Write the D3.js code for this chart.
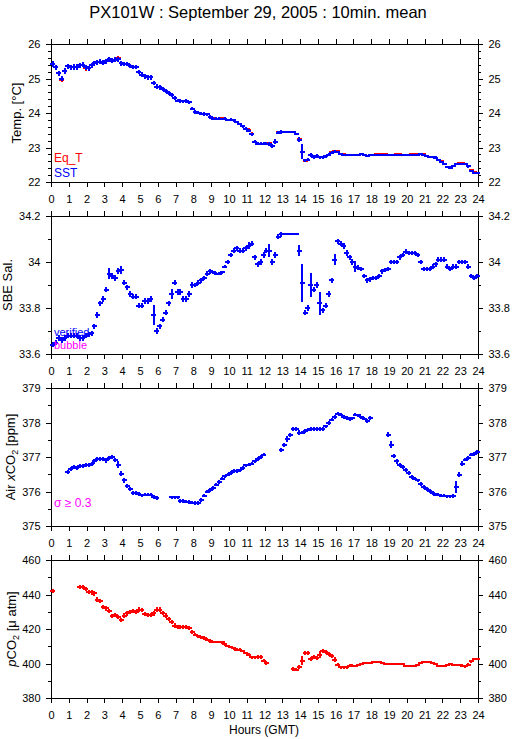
<!DOCTYPE html>
<html>
<head>
<meta charset="utf-8">
<script src="https://cdn.jsdelivr.net/npm/d3@7"></script>
<style>
  body { margin: 0; background: #fff; }
  svg { display: block; font-family: "Liberation Sans", Arial, Helvetica, sans-serif; }
</style>
</head>
<body>
<svg id="chart" width="515" height="739"></svg>
<script>
// ---- data: 10-minute means, 6 values per hour (one row per hour) ----
const hourTicks = d3.range(0, 25);

const tempTicks = [22, 23, 24, 25, 26];
const salTicks = [33.6, 33.8, 34, 34.2];
const xco2Ticks = [375, 376, 377, 378, 379];
const pco2Ticks = [380, 400, 420, 440, 460];

const sst = [
  25.42, 25.32, 25.15, 25.00, 25.22, 25.35,
  25.32, 25.34, 25.33, 25.38, 25.40, 25.32,
  25.29, 25.38, 25.44, 25.47, 25.49, 25.46,
  25.50, 25.56, 25.52, 25.55, 25.56, 25.44,
  25.43, 25.41, 25.36, 25.34, 25.33, 25.20,
  25.11, 25.07, 25.04, 25.03, 24.87, 24.76,
  24.74, 24.70, 24.63, 24.57, 24.52, 24.44,
  24.36, 24.35, 24.34, 24.35, 24.31, 24.13,
  24.03, 24.01, 23.98, 23.97, 23.96, 23.88,
  23.84, 23.84, 23.84, 23.83, 23.84, 23.81,
  23.81, 23.79, 23.74, 23.68, 23.61, 23.54,
  23.49, 23.38, 23.17, 23.11, 23.11, 23.11,
  23.11, 23.10, 23.04, 23.17, 23.43, 23.45,
  23.45, 23.45, 23.45, 23.44, 23.38, 23.23,
  22.88, 22.63, 22.65, 22.78, 22.73, 22.76,
  22.72, 22.72, 22.74, 22.79, 22.85, 22.88,
  22.88, 22.81, 22.79, 22.77, 22.77, 22.77,
  22.77, 22.78, 22.82, 22.79, 22.76, 22.78,
  22.79, 22.79, 22.79, 22.79, 22.79, 22.79,
  22.78, 22.78, 22.78, 22.79, 22.79, 22.79,
  22.79, 22.79, 22.79, 22.79, 22.81, 22.79,
  22.75, 22.72, 22.72, 22.71, 22.64, 22.58,
  22.51, 22.43, 22.42, 22.47, 22.51, 22.53,
  22.53, 22.51, 22.45, 22.33, 22.27, 22.25
];

const eqT = [
  25.42, 25.32, 25.15, 24.97, 25.22, 25.35,
  25.32, 25.34, 25.33, 25.38, 25.40, 25.30,
  25.29, 25.38, 25.44, 25.47, 25.49, 25.46,
  25.50, 25.56, 25.52, 25.55, 25.58, 25.44,
  25.43, 25.41, 25.36, 25.34, 25.33, 25.20,
  25.11, 25.07, 25.04, 25.03, 24.87, 24.76,
  24.74, 24.70, 24.63, 24.57, 24.52, 24.44,
  24.36, 24.35, 24.34, 24.35, 24.31, 24.13,
  24.03, 24.01, 23.98, 23.97, 23.96, 23.88,
  23.86, 23.84, 23.84, 23.86, 23.84, 23.81,
  23.81, 23.79, 23.74, 23.68, 23.61, 23.54,
  23.51, 23.40, 23.17, 23.11, 23.11, 23.11,
  23.11, 23.12, 23.04, 23.17, 23.44, 23.46,
  23.46, 23.45, 23.45, 23.46, 23.39, 23.25,
  22.88, 22.62, 22.65, 22.78, 22.73, 22.76,
  22.72, 22.72, 22.74, 22.79, 22.87, 22.90,
  22.90, 22.82, 22.80, 22.79, 22.79, 22.79,
  22.78, 22.78, 22.82, 22.79, 22.76, 22.78,
  22.79, 22.80, 22.81, 22.81, 22.80, 22.79,
  22.78, 22.78, 22.80, 22.80, 22.79, 22.79,
  22.79, 22.81, 22.82, 22.82, 22.82, 22.80,
  22.76, 22.73, 22.72, 22.71, 22.65, 22.60,
  22.52, 22.44, 22.42, 22.47, 22.52, 22.54,
  22.54, 22.52, 22.46, 22.34, 22.28, 22.25
];

const sal = [
  33.64, 33.65, 33.67, 33.66, 33.67, 33.68,
  33.68, 33.68, 33.68, 33.67, 33.67, 33.68,
  33.685, 33.69, 33.72, 33.77, 33.82, 33.84,
  33.88, 33.95, 33.94, 33.93, 33.96, 33.965,
  33.91, 33.89, 33.86, 33.85, 33.85, 33.81,
  33.81, 33.83, 33.83, 33.84, 33.77, 33.70,
  33.72, 33.75, 33.78, 33.82, 33.86, 33.91,
  33.87, 33.87, 33.84, 33.84, 33.86, 33.90,
  33.90, 33.91, 33.92, 33.93, 33.95, 33.96,
  33.955, 33.95, 33.95, 33.955, 33.98, 34.00,
  34.03, 34.05, 34.06, 34.05, 34.05, 34.06,
  34.07, 34.08, 34.02, 33.99, 34.00, 34.03,
  34.05, 34.05, 34.00, 34.03, 34.11, 34.12,
  34.12, 34.12, 34.12, 34.12, 34.12, 34.05,
  33.91, 33.78, 33.80, 33.90, 33.88, 33.90,
  33.82, 33.79, 33.81, 33.86, 33.92, 34.01,
  34.09, 34.08, 34.07, 34.04, 34.02, 34.00,
  33.98, 33.975, 33.97, 33.94, 33.92, 33.925,
  33.93, 33.93, 33.94, 33.96, 33.965, 33.97,
  34.00, 34.00, 34.00, 34.02, 34.03, 34.045,
  34.04, 34.04, 34.04, 34.03, 34.00, 33.97,
  33.97, 33.97, 33.98, 33.99, 34.01, 34.01,
  34.01, 33.98, 33.97, 33.98, 33.98, 34.00,
  34.00, 34.00, 33.98, 33.94, 33.93, 33.94
];

const xco2 = [
  null, null, null, null, null, 376.57,
  376.65, 376.71, 376.68, 376.73, 376.75, 376.76,
  376.78, 376.80, 376.87, 376.94, 376.94, 376.94,
  376.90, 376.97, 377.00, 376.92, 376.78, 376.52,
  376.32, 376.17, 376.07, 375.96, 375.96, 375.92,
  375.89, 375.91, 375.91, 375.91, 375.84, 375.81,
  null, null, null, null, 375.83, 375.83,
  375.83, 375.73, 375.72, 375.71, 375.70, 375.68,
  375.67, 375.67, 375.76, 375.88, 376.00, 376.05,
  376.10, 376.20, 376.28, 376.37, 376.44, 376.49,
  376.54, 376.60, 376.60, 376.61, 376.68, 376.76,
  376.78, 376.81, 376.87, 376.94, 377.00, 377.07,
  null, null, null, null, null, 377.21,
  377.36, 377.52, 377.65, 377.81, 377.81, 377.71,
  377.71, 377.76, 377.79, 377.81, 377.81, 377.81,
  377.81, 377.81, 377.89, 377.99, 378.08, 378.16,
  378.26, 378.23, 378.16, 378.13, 378.10, 378.12,
  378.23, 378.21, 378.15, 378.11, 378.05, 378.13,
  null, null, null, null, null, 377.65,
  377.36, 377.04, 376.87, 376.78, 376.71, 376.63,
  376.54, 376.42, 376.37, 376.32, 376.22, 376.13,
  376.07, 376.02, 375.96, 375.91, 375.91, 375.88,
  375.88, 375.86, 375.86, 375.87, 376.13, 376.49,
  376.81, 376.92, 376.97, 377.07, 377.09, 377.15
];

const pco2 = [
  442.0, null, null, null, null, null,
  null, null, null, 444.5, 444.5, 443.3,
  441.4, 441.2, 440.6, 437.1, 436.0, 433.0,
  431.9, 430.3, 427.4, 428.0, 427.0, 425.1,
  427.8, 429.0, 430.0, 430.5, 429.8, 431.3,
  430.8, 428.8, 428.0, 428.0, 429.0, 431.3,
  431.3, 429.4, 427.8, 425.9, 424.0, 422.0,
  421.2, 421.2, 421.2, 421.2, 420.7, 418.3,
  416.8, 415.8, 415.2, 414.8, 413.9, 413.0,
  412.5, 412.5, 412.5, 412.2, 411.2, 410.2,
  409.6, 408.8, 408.1, 408.1, 407.3, 406.1,
  405.2, 403.6, 403.6, 403.8, 403.8, 401.7,
  400.3, null, null, null, null, null,
  null, null, null, 396.8, 396.4, 398.0,
  401.7, 406.1, 406.1, 402.8, 403.6, 403.2,
  405.2, 407.1, 406.6, 405.6, 404.2, 402.3,
  399.4, 397.9, 397.9, 397.9, 398.8, 398.8,
  398.8, 399.4, 399.8, 400.3, 400.3, 400.3,
  400.9, 400.9, 400.9, 400.5, 400.0, 399.9,
  399.9, 399.9, 399.9, 399.9, 399.9, 398.8,
  398.8, 398.8, 398.8, 399.4, 400.3, 400.9,
  400.9, 400.9, 400.3, 399.6, 398.8, 398.8,
  398.8, 399.3, 399.6, 399.4, 399.4, 399.4,
  398.8, 398.3, 399.4, 401.3, 402.6, 402.6
];

// typical standard deviation per hour, and the larger single error bars [hour, sd]
const tempSd = [0.08, 0.08, 0.07, 0.07, 0.06, 0.07, 0.06, 0.05, 0.05, 0.03, 0.04, 0.05,
                0.05, 0.02, 0.05, 0.04, 0.03, 0.02, 0.02, 0.02, 0.02, 0.03, 0.03, 0.03];
const tempBars = [[12.583, 0.08], [13.917, 0.06], [14.083, 0.22]];
const salSd = [0.012, 0.012, 0.012, 0.012, 0.012, 0.012, 0.012, 0.012, 0.01, 0.008, 0.01, 0.012,
               0.012, 0.004, 0.012, 0.012, 0.012, 0.01, 0.01, 0.01, 0.01, 0.01, 0.01, 0.01];
const salBars = [[0.083, 0.011], [3.25, 0.025], [3.917, 0.018], [5.75, 0.043], [6.75, 0.022],
                 [11.083, 0.015], [12.25, 0.029], [13.917, 0.022], [14.083, 0.083], [14.583, 0.054],
                 [15.083, 0.05], [15.917, 0.025], [17.083, 0.024]];
const xco2Sd = [0.06, 0.06, 0.06, 0.06, 0.06, 0.05, 0.05, 0.05, 0.05, 0.05, 0.05, 0.05,
                0.06, 0.06, 0.05, 0.05, 0.05, 0.05, 0.06, 0.06, 0.05, 0.05, 0.05, 0.05];
const xco2Bars = [[3.75, 0.1], [3.917, 0.08], [13.25, 0.08], [18.917, 0.08], [19.083, 0.1],
                  [22.75, 0.17], [22.917, 0.08], [23.083, 0.06]];
const pco2Sd = [1.2, 1.2, 1.2, 1.2, 1.2, 1.2, 1.2, 1.0, 1.0, 0.8, 0.8, 1.0,
                1.0, 1.0, 1.2, 1.2, 0.8, 0.5, 0.5, 0.5, 0.5, 0.5, 0.5, 0.8];
const pco2Bars = [[14.083, 2.4], [15.083, 1.8], [2.417, 1.5]];

// ---- chart ----
const svg = d3.select("#chart");
const x = d3.scaleLinear().domain([0, 24]).range([51, 478]);
const slotHour = i => (i + 0.5) / 6;

function toPoints(vals, sdHourly, bars) {
    const extra = new Map(bars.map(([h, s]) => [Math.round(h * 6 - 0.5), s]));
    return vals
        .map((v, i) => ({ t: slotHour(i), v: v, sd: extra.has(i) ? extra.get(i) : sdHourly[Math.floor(i / 6)] }))
        .filter(d => d.v != null);
}

const panels = [
    { top: 44, domain: [22, 26], ticks: tempTicks, minor: 0.2, labelX: 21,
      series: [
        { pts: toPoints(eqT, tempSd, []), color: "#ff0000", width: 2 },
        { pts: toPoints(sst, tempSd, tempBars), color: "#0000ff", width: 2 }
      ],
      legend: [["Eq_T", "#ff0000", 162], ["SST", "#0000ff", 177]] },
    { top: 216, domain: [33.6, 34.2], ticks: salTicks, minor: 0.1, labelX: 12,
      series: [{ pts: toPoints(sal, salSd, salBars), color: "#0000ff", width: 2 }],
      legend: [["verified", "#0000ff", 336], ["bubble", "#ff00ff", 349]] },
    { top: 388, domain: [375, 379], ticks: xco2Ticks, minor: 0.5, labelX: 15,
      series: [{ pts: toPoints(xco2, xco2Sd, xco2Bars), color: "#0000ff", width: 2 }],
      legend: [["\u03c3 \u2265 0.3", "#ff00ff", 507]] },
    { top: 560, domain: [380, 460], ticks: pco2Ticks, minor: 10, labelX: 16,
      series: [{ pts: toPoints(pco2, pco2Sd, pco2Bars), color: "#ff0000", width: 2 }],
      legend: [] }
];
const panelH = 138;

// title
svg.append("text")
    .attr("x", 258).attr("y", 18)
    .attr("text-anchor", "middle")
    .attr("font-size", 16.5)
    .text("PX101W : September 29, 2005 : 10min. mean");

function styleAxis(g) {
    g.select(".domain").remove();
    g.attr("font-family", null).attr("font-size", 11);
    g.selectAll("line").attr("stroke", "#000");
    g.selectAll("text").attr("fill", "#000");
}

panels.forEach((p, pi) => {
    const y = d3.scaleLinear().domain(p.domain).range([p.top + panelH, p.top]);
    const g = svg.append("g").attr("shape-rendering", "crispEdges");
    const minorTicks = d3.range(p.domain[0], p.domain[1] + p.minor / 2, p.minor);

    // hour ticks top (outward) and bottom (outward, labelled)
    g.append("g").attr("transform", `translate(0,${p.top})`)
        .call(d3.axisTop(x).tickValues(hourTicks).tickSize(5).tickFormat(""))
        .call(styleAxis);
    g.append("g").attr("transform", `translate(0,${p.top + panelH})`)
        .call(d3.axisBottom(x).tickValues(hourTicks).tickSize(5).tickPadding(8.5).tickFormat(d3.format("d")))
        .call(styleAxis);

    // left and right value axes, minor + major
    g.append("g").attr("transform", `translate(${x.range()[0]},0)`)
        .call(d3.axisLeft(y).tickValues(minorTicks).tickSize(3).tickFormat(""))
        .call(styleAxis);
    g.append("g").attr("transform", `translate(${x.range()[0]},0)`)
        .call(d3.axisLeft(y).tickValues(p.ticks).tickSize(5).tickPadding(5.5).tickFormat(d => String(d)))
        .call(styleAxis);
    g.append("g").attr("transform", `translate(${x.range()[1]},0)`)
        .call(d3.axisRight(y).tickValues(minorTicks).tickSize(3).tickFormat(""))
        .call(styleAxis);
    g.append("g").attr("transform", `translate(${x.range()[1]},0)`)
        .call(d3.axisRight(y).tickValues(p.ticks).tickSize(5).tickPadding(5.5).tickFormat(d => String(d)))
        .call(styleAxis);

    // frame
    g.append("rect")
        .attr("x", x.range()[0] + 0.5).attr("y", p.top + 0.5)
        .attr("width", x.range()[1] - x.range()[0]).attr("height", panelH)
        .attr("fill", "none").attr("stroke", "#000").attr("stroke-width", 1);

    // data: each 10-min mean drawn as "+" (10-min wide, +/- sd tall)
    p.series.forEach(s => {
        g.append("path")
            .attr("fill", "none")
            .attr("stroke", s.color)
            .attr("stroke-width", s.width)
            .attr("d", s.pts.map(d => {
                const cx = x(d.t) + 0.5, cy = y(d.v);
                return `M${cx - 2.5},${cy}H${cx + 2.5}M${cx},${y(d.v + d.sd)}V${y(d.v - d.sd)}`;
            }).join(""));
    });

    // legend text
    p.legend.forEach(([txt, col, by]) => {
        svg.append("text").attr("x", 54).attr("y", by)
            .attr("font-size", pi === 1 ? 11 : 12).attr("fill", col).text(txt);
    });

    // y label (rotated)
    const lab = svg.append("text")
        .attr("transform", `translate(${p.labelX},${p.top + panelH / 2}) rotate(-90)`)
        .attr("text-anchor", "middle")
        .attr("font-size", 13);
    if (pi === 0) {
        lab.text("Temp. [\u00b0C]");
    } else if (pi === 1) {
        lab.text("SBE Sal.");
    } else if (pi === 2) {
        lab.append("tspan").text("Air ");
        lab.append("tspan").attr("font-style", "italic").text("x");
        lab.append("tspan").text("CO");
        lab.append("tspan").attr("font-size", 9).attr("dy", 3).text("2");
        lab.append("tspan").attr("dy", -3).text(" [ppm]");
    } else {
        lab.append("tspan").attr("font-style", "italic").text("p");
        lab.append("tspan").text("CO");
        lab.append("tspan").attr("font-size", 9).attr("dy", 3).text("2");
        lab.append("tspan").attr("dy", -3).text(" [\u03bc atm]");
    }
});

svg.append("text")
    .attr("x", 264).attr("y", 734)
    .attr("text-anchor", "middle")
    .attr("font-size", 12)
    .text("Hours (GMT)");
</script>
</body>
</html>
